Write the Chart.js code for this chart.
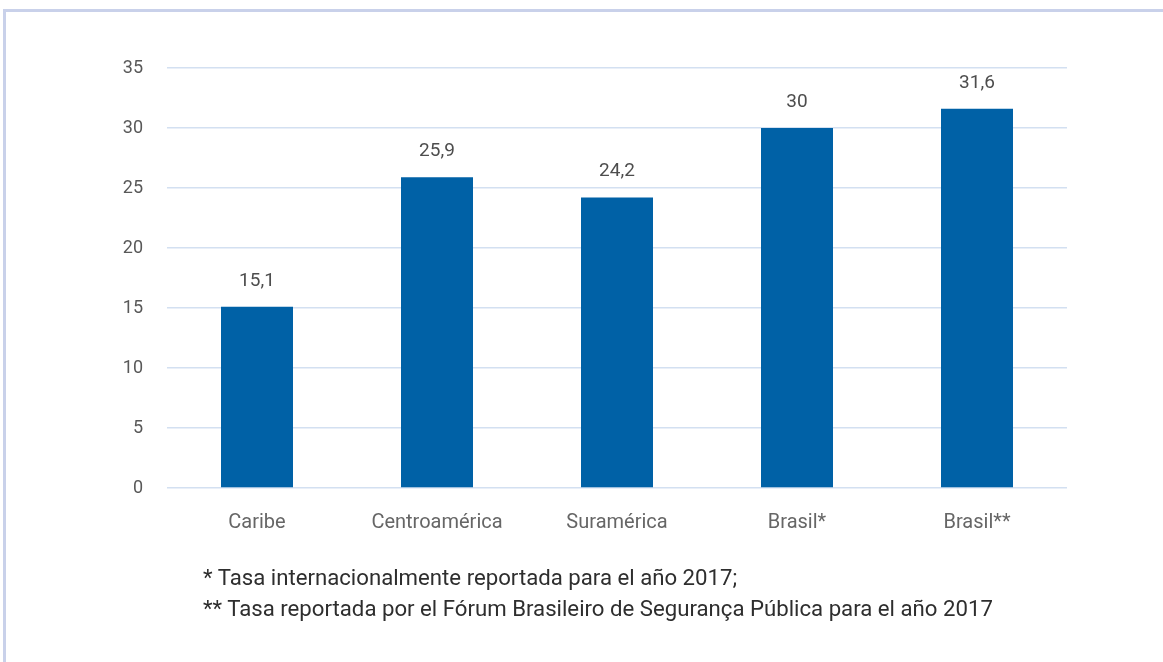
<!DOCTYPE html>
<html>
<head>
<meta charset="utf-8">
<script src="https://cdn.jsdelivr.net/npm/chart.js@4"></script>
<style>
  html, body { margin: 0; padding: 0; background: #fff; overflow: hidden; }
  #wrap { position: relative; width: 1163px; height: 662px; overflow: hidden; }
  #frame { position: absolute; left: 3px; top: 9px; width: 1300px; height: 800px;
           border: 3px solid #c9d1ea; box-sizing: border-box; }
  canvas { position: absolute; left: 0; top: 0; }
  .note { position: absolute; left: 203px; font-family: Roboto, sans-serif; font-size: 22.2px;
          color: #2e2e2e; white-space: nowrap; line-height: 26px; }
</style>
</head>
<body>
<div id="wrap">
  <div id="frame"></div>
  <canvas id="chart" width="1163" height="662"></canvas>
  <div class="note" style="top:564px">* Tasa internacionalmente reportada para el año 2017;</div>
  <div class="note" style="top:595px">** Tasa reportada por el Fórum Brasileiro de Segurança Pública para el año 2017</div>
</div>
<script>
// data
const categories = ['Caribe', 'Centroamérica', 'Suramérica', 'Brasil*', 'Brasil**'];
const rates = [15.1, 25.9, 24.2, 30, 31.6];
const yTicks = [0, 5, 10, 15, 20, 25, 30, 35];

// value labels above each bar, comma as decimal mark
const valueLabels = {
  id: 'valueLabels',
  afterDatasetsDraw(chart) {
    const c = chart.ctx;
    const meta = chart.getDatasetMeta(0);
    c.save();
    c.font = '19px Roboto, sans-serif';
    c.fillStyle = '#4d4d4d';
    c.textAlign = 'center';
    c.textBaseline = 'middle';
    meta.data.forEach((bar, i) => {
      c.fillText(String(rates[i]).replace('.', ','), bar.x, bar.y - 26);
    });
    c.restore();
  }
};

new Chart(document.getElementById('chart'), {
  type: 'bar',
  data: {
    labels: categories,
    datasets: [{
      data: rates,
      backgroundColor: '#0061a6',
      categoryPercentage: 1,
      barPercentage: 0.4
    }]
  },
  options: {
    responsive: false,
    animation: false,
    layout: { padding: { left: 20, right: 96, top: 68, bottom: 114 } },
    plugins: { legend: { display: false }, tooltip: { enabled: false } },
    scales: {
      x: {
        grid: { display: false },
        border: { display: false },
        ticks: { padding: 15, color: '#666', font: { family: 'Roboto', size: 20 } },
        afterFit(s) { s.height = 60; }
      },
      y: {
        min: 0, max: 35,
        afterBuildTicks(s) { s.ticks = yTicks.map(v => ({ value: v })); },
        grid: { color: '#d3e0f1', lineWidth: 1.5, drawTicks: false },
        border: { display: false },
        ticks: { padding: 24, color: '#595959', font: { family: 'Roboto', size: 18 } },
        afterFit(s) { s.width = 147; }
      }
    }
  },
  plugins: [valueLabels]
});
</script>
</body>
</html>
